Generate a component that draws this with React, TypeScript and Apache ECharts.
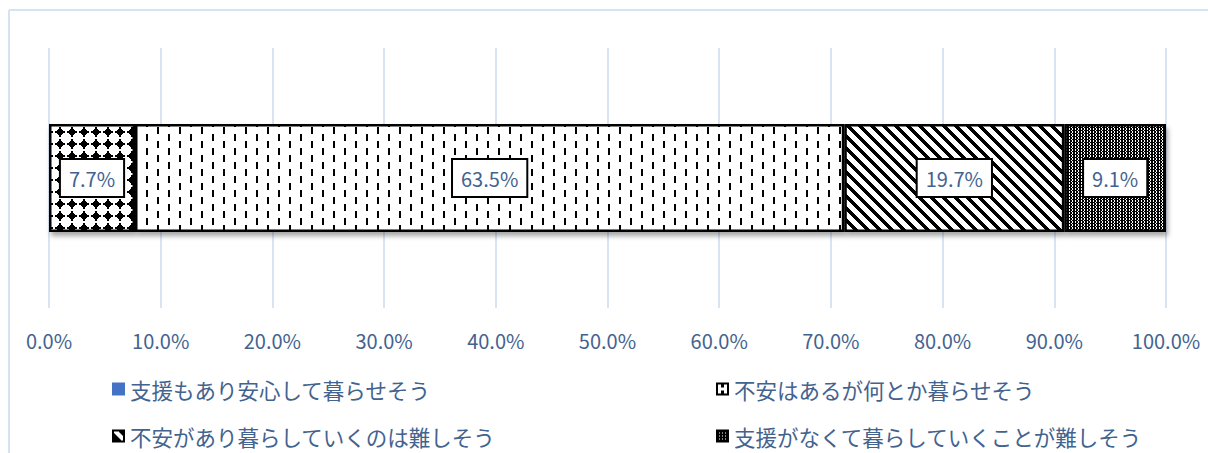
import React, { useEffect, useRef } from 'react';
import * as echarts from 'echarts';

const categories = ['全体'];
const seriesNames = [
  '支援もあり安心して暮らせそう',
  '不安はあるが何とか暮らせそう',
  '不安があり暮らしていくのは難しそう',
  '支援がなくて暮らしていくことが難しそう',
];
const seriesValues = [7.7, 63.5, 19.7, 9.1];
const axisMin = 0;
const axisMax = 100;
const axisStep = 10;

const FONT = '"Noto Sans CJK JP", "Noto Sans", sans-serif';
const TEXT_BLUE = '#43638F';

type PixFn = (x: number, y: number) => boolean;

function tile(w: number, h: number, black: PixFn): HTMLCanvasElement {
  const c = document.createElement('canvas');
  c.width = w;
  c.height = h;
  const ctx = c.getContext('2d')!;
  const img = ctx.createImageData(w, h);
  for (let y = 0; y < h; y++) {
    for (let x = 0; x < w; x++) {
      const i = (y * w + x) * 4;
      const v = black(x, y) ? 0 : 255;
      img.data[i] = v;
      img.data[i + 1] = v;
      img.data[i + 2] = v;
      img.data[i + 3] = 255;
    }
  }
  ctx.putImageData(img, 0, 0);
  return c;
}

function makePatterns() {
  const p1 = tile(12, 12, (x, y) => {
    const dx = x + 0.5 - 6;
    const dy = y + 0.5 - 6;
    return dx * dx + dy * dy > 5.6 * 5.6;
  });
  const p2 = tile(22, 14, (x, y) => {
    if ((x === 3 || x === 4) && y >= 1 && y <= 7) return true;
    if ((x === 14 || x === 15) && (y >= 8 || y === 0)) return true;
    return false;
  });
  const p3 = tile(12, 12, (x, y) => (((x - y) % 12) + 12) % 12 < 5);
  const p4 = tile(6, 6, (x, y) => {
    if (x % 3 === 1 && y % 3 !== 1) return false;
    if (x % 6 === 3 && y % 3 === 1) return false;
    return true;
  });
  return [p1, p2, p3, p4];
}

function makeIcons() {
  const border = (x: number, y: number) => x < 2 || y < 2 || x > 10 || y > 10;
  const i2 = tile(13, 13, (x, y) => {
    if (border(x, y)) return true;
    if (x >= 5 && x <= 7 && (y <= 4 || y >= 8)) return true;
    return false;
  });
  const i3 = tile(13, 13, (x, y) => {
    if (border(x, y)) return true;
    const d = x - y;
    return !(d >= -1 && d <= 4);
  });
  const i4 = tile(13, 13, (x, y) => {
    if (border(x, y)) return true;
    const dotX = [3, 6, 9].includes(x);
    const dotY = [3, 6, 9].includes(y);
    return !(dotX && dotY);
  });
  return [i2, i3, i4].map((c) => 'image://' + c.toDataURL());
}

export default function App() {
  const ref = useRef<HTMLDivElement>(null);

  useEffect(() => {
    if (!ref.current) return;
    const chart = echarts.init(ref.current, undefined, { renderer: 'svg' });
    const patterns = makePatterns();
    const icons = makeIcons();

    const series = seriesNames.map((name, i) => ({
      name,
      type: 'bar',
      stack: 'total',
      barWidth: 108,
      data: [seriesValues[i]],
      itemStyle: {
        color: {
          image: patterns[i],
          repeat: 'repeat',
          imageWidth: patterns[i].width,
          imageHeight: patterns[i].height,
        },
        borderColor: '#000',
        borderWidth: 2.5,
        shadowColor: 'rgba(0,0,0,0.35)',
        shadowBlur: 5,
        shadowOffsetX: 2,
        shadowOffsetY: 4,
      },
      label: {
        show: true,
        position: 'inside',
        formatter: (p: any) => Number(p.value).toFixed(1) + '%',
        color: TEXT_BLUE,
        fontSize: 20,
        fontFamily: FONT,
        lineHeight: 22,
        backgroundColor: '#fff',
        borderColor: '#000',
        borderWidth: 2,
        padding: [7, 8, 7, 8],
      },
    }));

    const legendItem = (i: number) => {
      if (i === 0) {
        return {
          name: seriesNames[0],
          icon: 'rect',
          itemStyle: { color: '#4472C4', borderWidth: 0, shadowBlur: 0, shadowColor: 'transparent' },
        };
      }
      return { name: seriesNames[i], icon: icons[i - 1] };
    };

    const legendCommon = {
      orient: 'vertical',
      height: 120,
      itemWidth: 13,
      itemHeight: 13,
      itemGap: 23,
      padding: 0,
      selectedMode: false,
      textStyle: {
        color: TEXT_BLUE,
        fontSize: 21.5,
        fontFamily: FONT,
        lineHeight: 24,
      },
    };

    chart.setOption({
      animation: false,
      backgroundColor: '#fff',
      grid: { left: 49, right: 42, top: 48, bottom: 145, containLabel: false },
      xAxis: {
        type: 'value',
        min: axisMin,
        max: axisMax,
        interval: axisStep,
        axisLine: { show: false },
        axisTick: { show: false },
        splitLine: { show: true, lineStyle: { color: '#D9E4F2', width: 2 } },
        axisLabel: {
          color: TEXT_BLUE,
          fontSize: 20,
          fontFamily: FONT,
          margin: 22,
          formatter: (v: number) => v.toFixed(1) + '%',
        },
      },
      yAxis: {
        type: 'category',
        data: categories,
        axisLine: { show: false },
        axisTick: { show: false },
        axisLabel: { show: false },
        splitLine: { show: false },
      },
      legend: [
        { ...legendCommon, left: 112, top: 377, data: [legendItem(0), legendItem(2)] },
        { ...legendCommon, left: 716, top: 377, data: [legendItem(1), legendItem(3)] },
      ],
      graphic: [
        { type: 'line', shape: { x1: 9, y1: 10, x2: 1208, y2: 10 }, style: { stroke: '#D6E3F3', lineWidth: 2 } },
        { type: 'line', shape: { x1: 9, y1: 10, x2: 9, y2: 453 }, style: { stroke: '#D6E3F3', lineWidth: 2 } },
      ],
      series,
    });

    return () => {
      chart.dispose();
    };
  }, []);

  return (
    <div
      ref={ref}
      style={{ position: 'fixed', left: 0, top: 0, width: 1208, height: 453 }}
    />
  );
}
